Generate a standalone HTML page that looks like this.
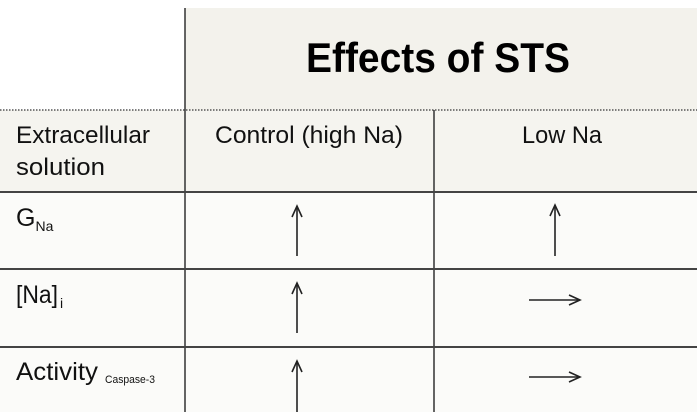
<!DOCTYPE html>
<html><head><meta charset="utf-8"><style>
html,body{margin:0;padding:0;background:#fff;}
svg{display:block;font-family:"Liberation Sans",sans-serif;}
</style></head><body>
<svg width="699" height="419" viewBox="0 0 699 419">
<rect x="185" y="8" width="512" height="102" fill="#f3f2ec"/>
<rect x="0" y="110" width="697" height="82" fill="#f5f4ef"/>
<rect x="0" y="192" width="697" height="220" fill="#fbfbf9"/>
<line x1="185" y1="8" x2="185" y2="412" stroke="#333" stroke-width="1.5"/>
<line x1="434" y1="110" x2="434" y2="412" stroke="#333" stroke-width="1.5"/>
<line x1="0" y1="110" x2="697" y2="110" stroke="#555" stroke-width="1.5" stroke-dasharray="1.5,1.5"/>
<line x1="0" y1="192" x2="697" y2="192" stroke="#444" stroke-width="2"/>
<line x1="0" y1="269" x2="697" y2="269" stroke="#444" stroke-width="2"/>
<line x1="0" y1="347" x2="697" y2="347" stroke="#444" stroke-width="2"/>
<text x="306" y="72" font-size="42" font-weight="bold" textLength="264" lengthAdjust="spacingAndGlyphs" fill="#000">Effects of STS</text>
<text x="16" y="143" font-size="24" textLength="134" lengthAdjust="spacingAndGlyphs" fill="#111">Extracellular</text>
<text x="16" y="175" font-size="24" textLength="89" lengthAdjust="spacingAndGlyphs" fill="#111">solution</text>
<text x="215" y="143" font-size="24" textLength="188" lengthAdjust="spacingAndGlyphs" fill="#111">Control (high Na)</text>
<text x="522" y="143" font-size="24" textLength="80" lengthAdjust="spacingAndGlyphs" fill="#111">Low Na</text>
<text x="16" y="226" font-size="25" fill="#111">G<tspan font-size="14" dy="5">Na</tspan></text>
<text x="16" y="303" font-size="25" textLength="42" lengthAdjust="spacingAndGlyphs" fill="#111">[Na]</text>
<text x="60" y="308" font-size="14" fill="#111">i</text>
<text x="16" y="380" font-size="25" textLength="82" lengthAdjust="spacingAndGlyphs" fill="#111">Activity</text>
<text x="105" y="383" font-size="11" textLength="50" lengthAdjust="spacingAndGlyphs" fill="#111">Caspase-3</text>
<g stroke="#222" stroke-width="1.6" fill="none">
<g><line x1="297" y1="256" x2="297" y2="206"/><polyline points="292,217 297,206 302,217"/></g>
<g><line x1="555" y1="256" x2="555" y2="205"/><polyline points="550,216 555,205 560,216"/></g>
<g><line x1="297" y1="333" x2="297" y2="283"/><polyline points="292,294 297,283 302,294"/></g>
<g><line x1="529" y1="300" x2="580" y2="300"/><polyline points="569,295 580,300 569,305"/></g>
<g><line x1="297" y1="412" x2="297" y2="361"/><polyline points="292,372 297,361 302,372"/></g>
<g><line x1="529" y1="377" x2="580" y2="377"/><polyline points="569,372 580,377 569,382"/></g>
</g>
</svg>
</body></html>
